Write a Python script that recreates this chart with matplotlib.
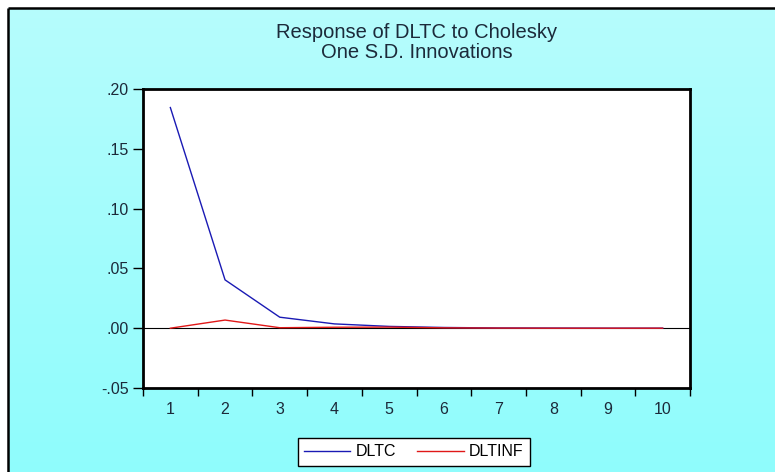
import numpy as np
import matplotlib
matplotlib.use('Agg')
import matplotlib.pyplot as plt

plt.rcParams['font.family'] = ['Liberation Sans', 'DejaVu Sans']

# impulse responses (periods 1..10)
periods = [1, 2, 3, 4, 5, 6, 7, 8, 9, 10]
dltc    = [0.1845, 0.0404, 0.0092, 0.0036, 0.0015, 0.0006, 0.0002, 0.0001, 0.0, 0.0]
dltinf  = [0.0, 0.0068, 0.0004, 0.0008, 0.0009, 0.0003, 0.0001, 0.0, 0.0, 0.0]
yticks  = [-0.05, 0.00, 0.05, 0.10, 0.15, 0.20]
ylabels = ['-.05', '.00', '.05', '.10', '.15', '.20']

W, H = 775, 472
fig = plt.figure(figsize=(W / 100, H / 100), dpi=100)
fig.patch.set_facecolor('white')

# cyan gradient background (horizontal bands), frame only on top and left
bg = fig.add_axes([0, 0, 1, 1], zorder=-10)
bg.axis('off')
top_c = np.array([0.71, 0.99, 0.99])
bot_c = np.array([0.56, 0.99, 0.99])
edges = np.linspace(8, H, 48)
for i in range(len(edges) - 1):
    f = i / (len(edges) - 2)
    bg.axhspan(edges[i], edges[i + 1] + 0.5, xmin=8 / W, xmax=1,
               color=top_c * (1 - f) + bot_c * f, lw=0)
bg.plot([8, 8], [8, H + 5], color='black', lw=1.8, solid_capstyle='butt')
bg.plot([8, W + 5], [8, 8], color='black', lw=1.8, solid_capstyle='butt')
bg.set_xlim(0, W)
bg.set_ylim(H, 0)

ax = fig.add_axes([143 / W, 1 - 388 / H, 547 / W, 299 / H])
ax.set_facecolor('white')

ax.plot(periods, dltc, color='#1a1ab4', lw=1.0, label='DLTC')
ax.plot(periods, dltinf, color='#e01818', lw=1.0, label='DLTINF')
ax.axhline(0, color='black', lw=0.8, zorder=1)

ax.set_xlim(0.5, 10.5)
ax.set_ylim(-0.05, 0.20)

ax.set_yticks(yticks)
ax.set_yticklabels(ylabels)
ax.set_xticks(periods)
ax.set_xticklabels([str(p) for p in periods])
ax.set_xticks(np.arange(0.5, 11, 1), minor=True)

ax.tick_params(axis='y', direction='out', length=7, width=1.0, labelsize=11.5,
               colors='black', labelcolor='#1c2a3a', pad=3)
ax.tick_params(axis='x', which='major', length=0, labelsize=11.5,
               labelcolor='#1c2a3a', pad=10)
ax.tick_params(axis='x', which='minor', direction='out', length=6, width=1.0)
ax.yaxis.set_minor_locator(matplotlib.ticker.NullLocator())

for s in ax.spines.values():
    s.set_linewidth(2.0)
    s.set_color('black')

fig.text(416.5 / W, 1 - 38 / H, 'Response of DLTC to Cholesky',
         ha='center', va='baseline', fontsize=14.5, color='#1c2a3a')
fig.text(416.5 / W, 1 - 57.5 / H, 'One S.D. Innovations',
         ha='center', va='baseline', fontsize=14.5, color='#1c2a3a')

leg = fig.legend(loc='center', bbox_to_anchor=(414 / W, 1 - 452 / H), ncol=2,
                 fancybox=False, edgecolor='black', framealpha=1, fontsize=11.5,
                 handlelength=2.9, handletextpad=0.35, columnspacing=1.3,
                 borderpad=0.4)
leg.get_frame().set_linewidth(1.0)

fig.savefig('out.png', dpi=100)
